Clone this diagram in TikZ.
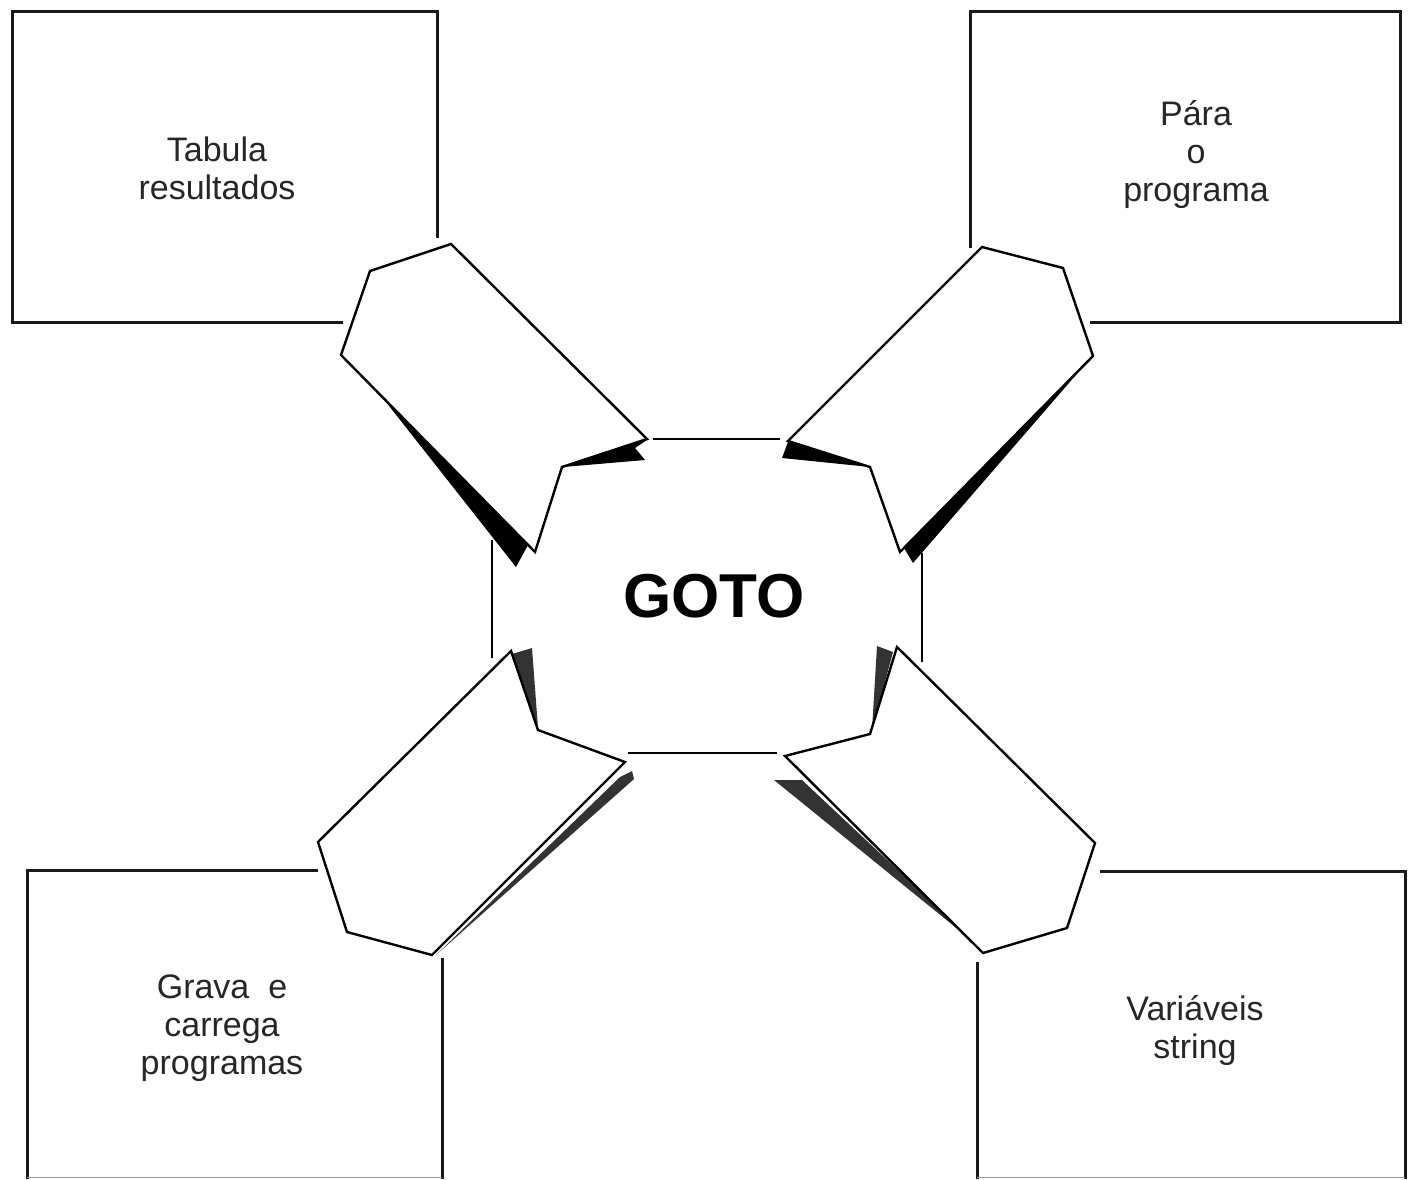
\documentclass[tikz,border=0pt]{standalone}
\usepackage{fontspec}
\setmainfont{Liberation Sans}
\begin{document}
\begin{tikzpicture}[x=1pt,y=-1pt,
  boxline/.style={line width=3pt, draw=black!90, line cap=butt},
  arrowshape/.style={draw=black, fill=white, line width=2.4pt, line join=miter},
  blackshade/.style={fill=black, draw=none},
  greyshade/.style={fill=black!80, draw=none},
  octline/.style={line width=2.4pt, draw=black},
  label/.style={align=center, inner sep=0pt, text=black!85, font=\fontsize{34}{38}\selectfont},
  title/.style={inner sep=0pt, font=\fontsize{62}{62}\selectfont\bfseries}]
\useasboundingbox (0,0) rectangle (1408,1180);
\fill[white] (0,0) rectangle (1408,1180);

% boxes
\draw[boxline] (437,238) -- (437,12) -- (12,12) -- (12,322) -- (343,322);
\draw[boxline] (970,248) -- (970,12) -- (1400,12) -- (1400,322) -- (1090,322);
\draw[boxline] (318,870) -- (27,870) -- (27,1179);
\draw[boxline] (442,958) -- (442,1179);
\draw[line width=1pt, black!40] (27,1177) -- (442,1177);
\draw[boxline] (1100,871) -- (1405,871) -- (1405,1179);
\draw[boxline] (977,962) -- (977,1179);
\draw[line width=1pt, black!40] (977,1177) -- (1405,1177);

% centre outline
\draw[octline] (653,439) -- (780,439);
\draw[octline] (492,540) -- (492,658);
\draw[octline] (922,553) -- (922,662);
\draw[octline] (628,753) -- (777,753);

% shadows
\fill[blackshade] (382,397) -- (528,545) -- (516,567) -- cycle;
\fill[blackshade] (563,467) -- (647,440) -- (635,448) -- (645,460) -- cycle;
\fill[blackshade] (1088,361) -- (904,548) -- (913,563) -- cycle;
\fill[blackshade] (788,442) -- (870,467) -- (782,458) -- cycle;
\fill[greyshade] (512,654) -- (532,648) -- (538,728) -- cycle;
\fill[greyshade] (620,777) -- (632,771) -- (634,779) -- (436,955) -- cycle;
\fill[greyshade] (877,646) -- (893,652) -- (872,730) -- cycle;
\fill[greyshade] (774,780) -- (802,780) -- (981,948) -- cycle;

% arrow shapes
\draw[arrowshape] (451,244) -- (370,271) -- (341,355) -- (535,552) -- (562,467) -- (647,439) -- cycle;
\draw[arrowshape] (982,247) -- (1063,268) -- (1093,356) -- (900,552) -- (870,467) -- (788,441) -- cycle;
\draw[arrowshape] (511,651) -- (538,730) -- (625,762) -- (432,955) -- (347,932) -- (318,842) -- cycle;
\draw[arrowshape] (897,647) -- (1095,843) -- (1067,928) -- (983,953) -- (785,756) -- (870,734) -- cycle;

% texts
\node[label] (tab) at (217,168) {Tabula\\resultados};
\node[label] (para) at (1196,155) {Pára\\o\\programa};
\node[label] (grava) at (222,1028) {Grava\ \ e\\carrega\\programas};
\node[label] (var) at (1195,1030) {Variáveis\\string};
\node[title] (goto) at (714,596) {GOTO};
\end{tikzpicture}
\end{document}
